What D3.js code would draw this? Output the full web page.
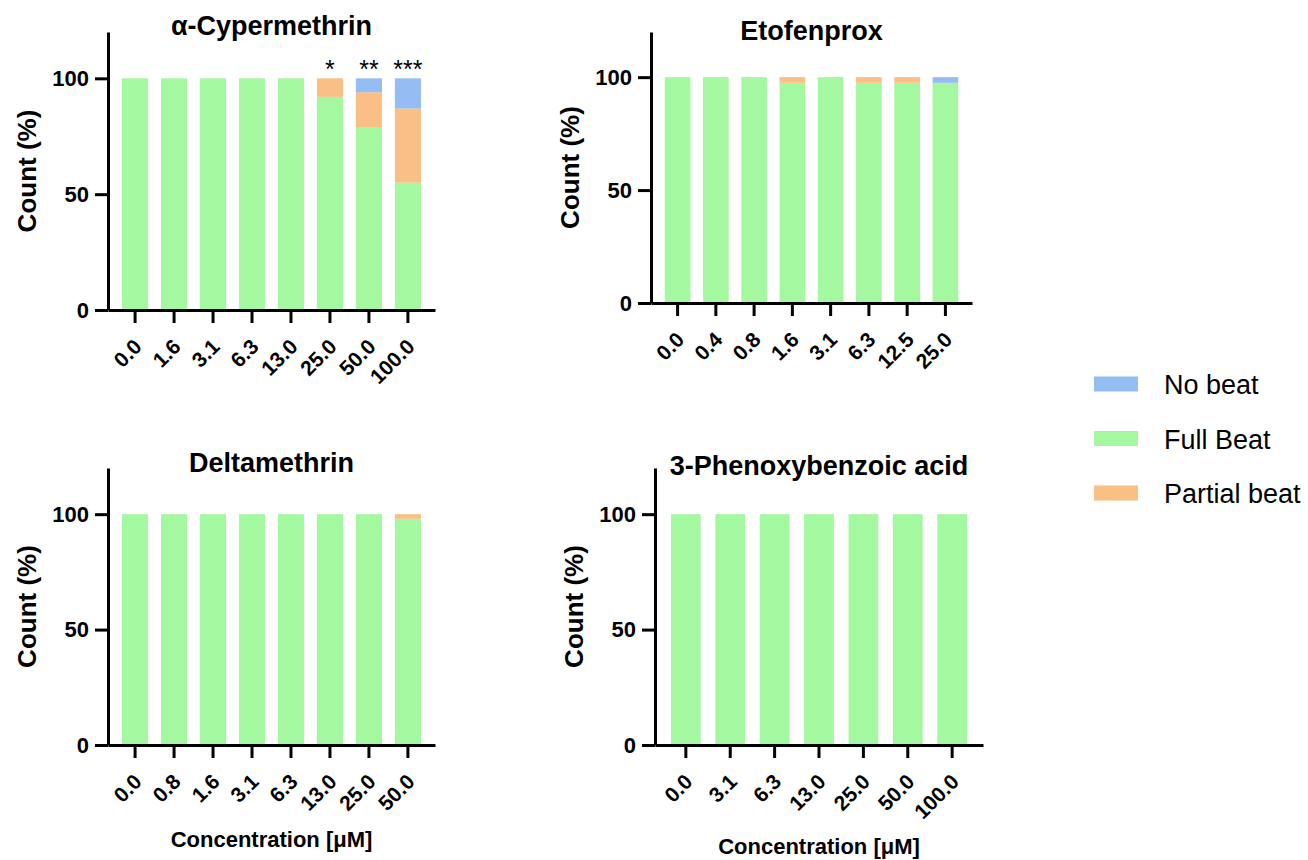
<!DOCTYPE html>
<html>
<head>
<meta charset="utf-8">
<script src="https://cdn.jsdelivr.net/npm/d3@7"></script>
<style>
  body { margin: 0; background: #fff; }
  svg { font-family: "Liberation Sans", Arial, sans-serif; }
  .axis path, .axis line { stroke: #000; stroke-width: 3; }
  .axis text { font-weight: bold; fill: #000; }
</style>
</head>
<body>
<svg id="chart" width="1308" height="860"></svg>
<script>
// legend / series
var seriesKeys = ['none', 'full', 'partial'];
var seriesNames = ['No beat', 'Full Beat', 'Partial beat'];
var seriesColors = ['#93bdf3', '#a3f8a0', '#f9bf84'];

// alpha-Cypermethrin
var cyperConc = ['0.0', '1.6', '3.1', '6.3', '13.0', '25.0', '50.0', '100.0'];
var cyperFull = [100, 100, 100, 100, 100, 92, 79, 55];
var cyperPartial = [0, 0, 0, 0, 0, 8, 15, 32];
var cyperNone = [0, 0, 0, 0, 0, 0, 6, 13];
var cyperStars = ['', '', '', '', '', '*', '**', '***'];

// Etofenprox
var etofConc = ['0.0', '0.4', '0.8', '1.6', '3.1', '6.3', '12.5', '25.0'];
var etofFull = [100, 100, 100, 97.5, 100, 97.5, 97.5, 97.5];
var etofPartial = [0, 0, 0, 2.5, 0, 2.5, 2.5, 0];
var etofNone = [0, 0, 0, 0, 0, 0, 0, 2.5];

// Deltamethrin
var deltaConc = ['0.0', '0.8', '1.6', '3.1', '6.3', '13.0', '25.0', '50.0'];
var deltaFull = [100, 100, 100, 100, 100, 100, 100, 98];
var deltaPartial = [0, 0, 0, 0, 0, 0, 0, 2];
var deltaNone = [0, 0, 0, 0, 0, 0, 0, 0];

// 3-Phenoxybenzoic acid
var pbaConc = ['0.0', '3.1', '6.3', '13.0', '25.0', '50.0', '100.0'];
var pbaFull = [100, 100, 100, 100, 100, 100, 100];
var pbaPartial = [0, 0, 0, 0, 0, 0, 0];
var pbaNone = [0, 0, 0, 0, 0, 0, 0];

var yTicks = [0, 50, 100];

var panels = [
    {title: '\u03b1-Cypermethrin', conc: cyperConc, full: cyperFull, partial: cyperPartial, none: cyperNone, stars: cyperStars,
     left: 108, right: 435, bottom: 310, top: 32, titleY: 35, xTitleY: null},
    {title: 'Etofenprox', conc: etofConc, full: etofFull, partial: etofPartial, none: etofNone, stars: null,
     left: 651, right: 972, bottom: 303, top: 32, titleY: 40, xTitleY: null},
    {title: 'Deltamethrin', conc: deltaConc, full: deltaFull, partial: deltaPartial, none: deltaNone, stars: null,
     left: 108, right: 435, bottom: 745, top: 468, titleY: 472, xTitleY: 847},
    {title: '3-Phenoxybenzoic acid', conc: pbaConc, full: pbaFull, partial: pbaPartial, none: pbaNone, stars: null,
     left: 655, right: 983, bottom: 745, top: 468, titleY: 475, xTitleY: 854}
];

var svg = d3.select('#chart');
var color = d3.scaleOrdinal().domain(seriesKeys).range(seriesColors);
// stacking order bottom -> top
var stack = d3.stack().keys(['full', 'partial', 'none']);

panels.forEach(function (p) {
    var rows = p.conc.map(function (c, i) {
        return {conc: c, full: p.full[i], partial: p.partial[i], none: p.none[i]};
    });
    var x = d3.scaleBand().domain(p.conc).range([p.left, p.right]).paddingInner(0.33).paddingOuter(0.36);
    var y = d3.scaleLinear().domain([0, 120]).range([p.bottom, p.top]);
    var g = svg.append('g');

    g.selectAll('.layer').data(stack(rows)).enter().append('g')
        .attr('fill', function (d) { return color(d.key); })
        .selectAll('rect').data(function (d) { return d; }).enter().append('rect')
        .attr('x', function (d) { return x(d.data.conc); })
        .attr('width', x.bandwidth())
        .attr('y', function (d) { return y(d[1]); })
        .attr('height', function (d) { return y(d[0]) - y(d[1]); });

    var ya = g.append('g').attr('class', 'axis').attr('transform', 'translate(' + p.left + ',0)')
        .call(d3.axisLeft(y).tickValues(yTicks).tickSize(13).tickSizeOuter(0).tickPadding(6));
    ya.selectAll('text').style('font-size', '22px');

    var xa = g.append('g').attr('class', 'axis').attr('transform', 'translate(0,' + p.bottom + ')')
        .call(d3.axisBottom(x).tickSize(13).tickSizeOuter(0));
    xa.selectAll('text')
        .style('font-size', '21px')
        .attr('text-anchor', 'end')
        .attr('y', 0).attr('dy', 0)
        .attr('transform', 'translate(8,38) rotate(-45)');

    g.append('text')
        .attr('x', (p.left + p.right) / 2).attr('y', p.titleY)
        .attr('text-anchor', 'middle')
        .style('font-size', '27px').style('font-weight', 'bold')
        .text(p.title);

    g.append('text')
        .attr('transform', 'translate(' + (p.left - 72) + ',' + (p.bottom + p.top) / 2 + ') rotate(-90)')
        .attr('text-anchor', 'middle')
        .style('font-size', '26px').style('font-weight', 'bold')
        .text('Count (%)');

    if (p.xTitleY) {
        g.append('text')
            .attr('x', (p.left + p.right) / 2).attr('y', p.xTitleY)
            .attr('text-anchor', 'middle')
            .style('font-size', '22px').style('font-weight', 'bold')
            .text('Concentration [\u03bcM]');
    }

    if (p.stars) {
        g.selectAll('.star').data(rows).enter().append('text')
            .attr('x', function (d) { return x(d.conc) + x.bandwidth() / 2; })
            .attr('y', 78)
            .attr('text-anchor', 'middle')
            .style('font-size', '25px')
            .text(function (d, i) { return p.stars[i]; });
    }
});

// legend
var lg = svg.append('g').attr('transform', 'translate(1094,384)');
var item = lg.selectAll('g').data(seriesKeys).enter().append('g')
    .attr('transform', function (d, i) { return 'translate(0,' + i * 54.5 + ')'; });
item.append('rect').attr('x', 0).attr('y', -7.5).attr('width', 44).attr('height', 15)
    .attr('fill', function (d) { return color(d); });
item.append('text').attr('x', 70).attr('y', 10).style('font-size', '27px')
    .text(function (d, i) { return seriesNames[i]; });
</script>
</body>
</html>
